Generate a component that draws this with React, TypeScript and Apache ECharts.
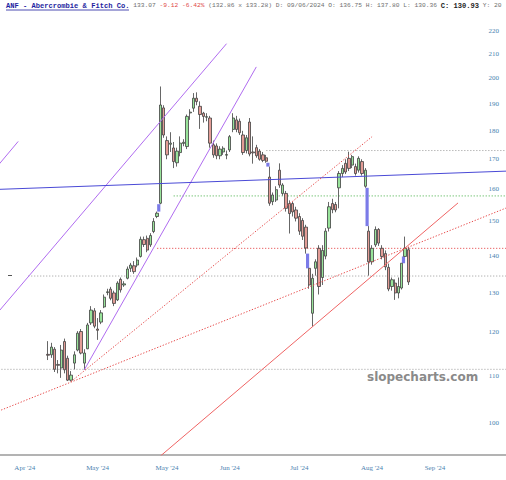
import React, { useEffect, useRef } from "react";
import * as echarts from "echarts";

// ---------- categories (trading days) ----------
const FIRST_DAY = "2024-03-20";
const SLOT_COUNT = 153;
const HOLIDAYS = ["2024-03-29", "2024-05-27", "2024-06-19", "2024-07-04", "2024-09-02"];

function tradingDays(start: string, count: number, holidays: string[]): string[] {
  const out: string[] = [];
  const d = new Date(start + "T00:00:00Z");
  while (out.length < count) {
    const dow = d.getUTCDay();
    const s = d.toISOString().slice(0, 10);
    if (dow !== 0 && dow !== 6 && holidays.indexOf(s) < 0) out.push(s);
    d.setUTCDate(d.getUTCDate() + 1);
  }
  return out;
}
const categories = tradingDays(FIRST_DAY, SLOT_COUNT, HOLIDAYS);

// ---------- OHLC (from 2024-04-10) ----------
const CANDLE_START = "2024-04-10";
const opens = [
  114.8, 114.7, 116.0, 112.5, 111.7, 117.8, 113.9, 109.0, 112.8, 115.8,
  120.2, 112.8, 116.1, 122.3, 125.3, 120.8, 122.5, 126.3, 130.0, 130.9,
  129.9, 128.1, 133.5, 132.0, 133.8, 136.5, 137.2, 137.4, 139.8, 144.6,
  145.0, 143.1, 147.0, 151.5, 155.6, 188.5, 176.5, 175.2, 173.9, 168.8,
  172.3, 175.5, 174.4, 186.6, 188.4, 192.2, 189.1, 186.5, 185.0, 184.7,
  175.0, 174.6, 171.2, 172.5, 171.4, 173.2, 180.5, 184.0, 183.5, 178.5,
  173.0, 183.2, 172.5, 174.0, 172.8, 171.5, 170.5, 164.0, 156.1, 156.6,
  166.3, 158.7, 158.7, 155.5, 155.5, 153.5, 151.5, 150.3, 148.3, 136.5,
  124.7, 136.5, 142.1, 134.0, 139.9, 148.0, 155.5, 155.2, 160.5, 165.2,
  168.6, 170.3, 168.0, 167.5, 166.3, 169.2, 161.0, 147.1, 138.3, 143.1,
  147.6, 142.1, 140.6, 136.75, 131.6, 132.5, 129.9, 131.2, 139.8, 141.7,
];
const highs = [
  117.9, 117.5, 116.5, 113.5, 117.0, 118.5, 114.5, 111.0, 115.5, 120.3,
  120.8, 116.0, 122.3, 126.5, 126.0, 123.5, 125.5, 129.5, 131.0, 131.5,
  130.5, 133.0, 134.0, 133.0, 137.0, 138.0, 138.5, 139.5, 145.5, 145.5,
  145.8, 146.5, 151.0, 153.0, 196.8, 189.5, 178.0, 179.5, 176.0, 174.0,
  178.0, 177.0, 186.0, 188.0, 194.2, 194.5, 191.0, 187.0, 186.5, 185.5,
  176.5, 175.5, 174.5, 174.5, 173.0, 178.5, 186.5, 185.5, 184.5, 180.0,
  178.5, 184.7, 178.0, 175.0, 173.5, 172.5, 171.5, 167.5, 159.0, 161.0,
  168.6, 162.0, 159.5, 156.5, 156.0, 154.5, 152.5, 151.0, 149.0, 136.5,
  135.0, 139.0, 143.0, 143.0, 148.0, 156.0, 157.0, 156.0, 166.0, 168.0,
  170.0, 172.6, 171.5, 168.5, 171.0, 170.0, 167.0, 148.6, 143.0, 148.5,
  148.0, 143.0, 141.5, 137.8, 134.0, 133.5, 134.0, 137.9, 145.5, 142.5,
];
const lows = [
  113.5, 114.0, 110.8, 110.5, 109.5, 110.5, 108.8, 108.7, 111.4, 115.5,
  114.8, 111.3, 116.0, 121.8, 121.0, 118.2, 122.0, 126.0, 129.3, 128.0,
  126.5, 127.8, 130.0, 131.5, 133.5, 135.5, 135.0, 136.8, 139.5, 142.5,
  141.0, 142.5, 146.5, 151.0, 155.3, 177.5, 170.0, 172.5, 167.0, 167.5,
  171.0, 174.5, 173.5, 184.0, 187.0, 189.5, 180.7, 183.0, 183.5, 174.0,
  170.5, 170.0, 170.0, 171.5, 170.0, 172.5, 179.5, 179.5, 178.5, 171.5,
  172.0, 171.0, 168.5, 170.5, 169.5, 169.0, 168.8, 154.8, 155.0, 156.0,
  160.5, 158.0, 153.0, 146.4, 151.5, 150.0, 146.0, 144.5, 140.6, 131.0,
  121.4, 134.5, 129.5, 132.0, 139.0, 147.0, 152.5, 152.8, 154.0, 164.0,
  165.0, 166.0, 167.0, 164.5, 165.5, 164.5, 160.5, 134.5, 137.5, 142.5,
  142.8, 139.0, 136.0, 130.36, 130.5, 128.1, 128.5, 130.8, 139.8, 132.0,
];
const closes = [
  114.6, 116.5, 111.4, 112.3, 115.8, 111.3, 109.0, 110.1, 114.7, 119.8,
  115.1, 115.1, 121.8, 125.5, 121.5, 120.5, 124.8, 128.8, 130.2, 128.5,
  127.2, 132.5, 130.7, 132.3, 136.3, 137.4, 135.6, 138.8, 144.7, 143.2,
  141.6, 145.8, 150.0, 152.5, 189.6, 178.5, 171.5, 175.6, 169.2, 172.8,
  175.6, 175.9, 185.3, 186.9, 192.2, 190.9, 186.0, 185.3, 185.2, 175.6,
  171.5, 171.2, 173.5, 173.8, 171.6, 177.9, 184.7, 180.5, 179.3, 172.3,
  177.5, 171.8, 172.2, 171.2, 170.0, 169.6, 169.3, 155.6, 158.2, 159.9,
  161.4, 161.4, 154.0, 152.4, 152.9, 151.0, 147.1, 145.6, 142.2, 132.0,
  133.8, 138.3, 131.6, 141.5, 147.1, 154.5, 153.6, 153.5, 165.2, 166.9,
  165.7, 166.9, 170.9, 165.2, 170.3, 165.2, 166.3, 138.3, 142.1, 147.6,
  143.6, 139.8, 136.9, 130.93, 133.4, 129.9, 131.6, 137.9, 142.1, 132.8,
];

// ---------- price gaps (filled in blue) ----------
const gapDates = ["2024-05-29", "2024-07-17", "2024-08-02", "2024-08-28", "2024-09-13"];
const gapLows = [153.0, 167.5, 136.5, 148.6, 137.9];
const gapHighs = [155.3, 168.8, 140.6, 160.5, 139.8];

// ---------- horizontal levels ----------
const levelPrices = [173.0, 157.9, 142.1, 134.4, 111.4];
const levelStartDates = ["2024-07-16", "2024-06-04", "2024-05-28", "2024-04-02", ""];

// ---------- trend lines: [slot, price] ----------
const trendStarts = [[-1, 125.05], [25, 111.3], [-1, 168.0], [-1, 160.0], [48, 93.56], [-1, 102.4], [21, 108.7]];
const trendEnds = [[68, 214.5], [77, 204.7], [5, 176.2], [153, 166.0], [138, 155.7], [153, 154.3], [112, 177.9]];

// ---------- axes ----------
const priceTicks = [100, 110, 120, 130, 140, 150, 160, 170, 180, 190, 200, 210, 220];
const priceMin = 93.76;
const priceMax = 234.2;
const labelDates = ["2024-04-01", "2024-05-01", "2024-05-31", "2024-06-28", "2024-07-30", "2024-08-29", "2024-09-26"];
const MONTHS = ["Jan", "Feb", "Mar", "Apr", "May", "Jun", "Jul", "Aug", "Sep", "Oct", "Nov", "Dec"];

const LN = Math.log;

function buildOption() {
  const startIdx = categories.indexOf(CANDLE_START);
  const candleData: any[] = categories.map(() => "-");
  opens.forEach((o, k) => {
    candleData[startIdx + k] = [LN(o), LN(closes[k]), LN(lows[k]), LN(highs[k])];
  });

  const gapData = gapDates.map((d, k) => [categories.indexOf(d), LN(gapLows[k]), LN(gapHighs[k])]);

  const levelStyles = [
    { color: "#a9a9a9", type: [1.2, 1.8] },
    { color: "#5cb85c", type: [1.2, 1.8] },
    { color: "#e8585a", type: [1.2, 1.8] },
    { color: "#a9a9a9", type: [1.2, 1.8] },
    { color: "#a9a9a9", type: [1.2, 1.8] },
  ];
  const levelSeries = levelPrices.map((p, k) => {
    const s = levelStartDates[k] ? categories.indexOf(levelStartDates[k]) : -1;
    return {
      type: "line",
      data: [[s, LN(p)], [SLOT_COUNT, LN(p)]],
      symbol: "none",
      clip: true,
      silent: true,
      animation: false,
      z: 2,
      lineStyle: { width: 1, color: levelStyles[k].color, type: levelStyles[k].type },
    };
  });

  const trendStyles = [
    { color: "#b06cf0", type: "solid" },
    { color: "#b06cf0", type: "solid" },
    { color: "#b06cf0", type: "solid" },
    { color: "#4a4ad6", type: "solid" },
    { color: "#ef6464", type: "solid" },
    { color: "#e64a4a", type: [1.3, 1.7] },
    { color: "#e64a4a", type: [1.3, 1.7] },
  ];
  const trendSeries = trendStarts.map((a, k) => ({
    type: "line",
    data: [[a[0], LN(a[1])], [trendEnds[k][0], LN(trendEnds[k][1])]],
    symbol: "none",
    clip: true,
    silent: true,
    animation: false,
    z: 4,
    lineStyle: { width: 1, color: trendStyles[k].color, type: trendStyles[k].type },
  }));

  const labelColor = "#4a7fb0";

  return {
    animation: false,
    backgroundColor: "#ffffff",
    grid: { left: 0, right: 0, top: 0, bottom: 25, containLabel: false },
    xAxis: {
      type: "category",
      data: categories,
      boundaryGap: true,
      min: 0,
      max: SLOT_COUNT - 1,
      axisLine: { show: true, lineStyle: { color: "#9a9a9a", width: 1.5 } },
      axisTick: { show: false },
      splitLine: { show: false },
      axisLabel: {
        interval: (_i: number, v: string) => labelDates.indexOf(v) >= 0,
        formatter: (v: string) => MONTHS[Number(v.slice(5, 7)) - 1] + " '" + v.slice(2, 4),
        color: labelColor,
        fontFamily: "Liberation Serif",
        fontSize: 7,
        margin: 9,
      },
    },
    yAxis: {
      type: "value",
      position: "right",
      min: LN(priceMin),
      max: LN(priceMax),
      axisLine: { show: false },
      axisTick: { show: false },
      splitLine: { show: false },
      axisLabel: {
        inside: true,
        margin: 7,
        customValues: priceTicks.map((t) => LN(t)),
        formatter: (v: number) => String(Math.round(Math.exp(v))),
        color: labelColor,
        fontFamily: "Liberation Serif",
        fontSize: 7,
      },
    },
    graphic: [
      {
        type: "text",
        x: 6,
        y: 5.5,
        silent: true,
        style: {
          text:
            "{t|ANF - Abercrombie & Fitch Co.}{g| 133.07}{r| -9.12 -6.42%}{g| (132.86 x 133.28) D: 09/06/2024 O: 136.75 H: 137.80 L: 130.36 }{b|C: 130.93}{g| Y: 20}",
          verticalAlign: "middle",
          rich: {
            t: { fontFamily: "Liberation Mono", fontWeight: "bold", fontSize: 7.1, fill: "#1e1ea0" },
            g: { fontFamily: "Liberation Mono", fontSize: 6.25, fill: "#6e6e6e" },
            r: { fontFamily: "Liberation Mono", fontSize: 6.25, fill: "#e04848" },
            b: { fontFamily: "Liberation Mono", fontWeight: "bold", fontSize: 7.1, fill: "#222222" },
          },
        },
      },
      {
        type: "line",
        silent: true,
        shape: { x1: 6, y1: 10, x2: 129, y2: 10 },
        style: { stroke: "#1e1ea0", lineWidth: 0.8 },
      },
      {
        type: "line",
        silent: true,
        shape: { x1: 8, y1: 275.5, x2: 12, y2: 275.5 },
        style: { stroke: "#555555", lineWidth: 1 },
      },
      {
        type: "text",
        x: 367,
        y: 377,
        silent: true,
        style: {
          text: "slopecharts.com",
          font: 'bold 12px "DejaVu Sans"',
          fill: "#8a8a8a",
          verticalAlign: "middle",
        },
      },
    ],
    series: [
      ...levelSeries,
      {
        type: "candlestick",
        data: candleData,
        barWidth: 2.8,
        z: 3,
        silent: true,
        itemStyle: {
          color: "#98e39a",
          color0: "#e39c96",
          borderColor: "#404040",
          borderColor0: "#404040",
          borderWidth: 0.8,
        },
      },
      {
        type: "custom",
        data: gapData,
        z: 3,
        silent: true,
        encode: { x: 0, y: [1, 2] },
        renderItem: (_p: any, api: any) => {
          const i = api.value(0);
          const lo = api.value(1);
          const hi = api.value(2);
          const top = api.coord([i, hi]);
          const bot = api.coord([i, lo]);
          const prev = api.coord([i - 1, lo]);
          const w = api.size([1, 0])[0];
          const xc = (prev[0] + top[0]) / 2;
          return {
            type: "rect",
            shape: { x: xc - w * 0.48, y: top[1], width: w * 0.96, height: Math.max(1, bot[1] - top[1]) },
            style: { fill: "#7b7be8" },
          };
        },
      },
      ...trendSeries,
    ],
  };
}

export default function App() {
  const ref = useRef<HTMLDivElement>(null);
  useEffect(() => {
    document.body.style.margin = "0";
    if (!ref.current) return;
    const chart = echarts.init(ref.current, null, { renderer: "svg" });
    chart.setOption(buildOption() as any);
    return () => chart.dispose();
  }, []);
  return <div ref={ref} style={{ width: 506, height: 480 }} />;
}
